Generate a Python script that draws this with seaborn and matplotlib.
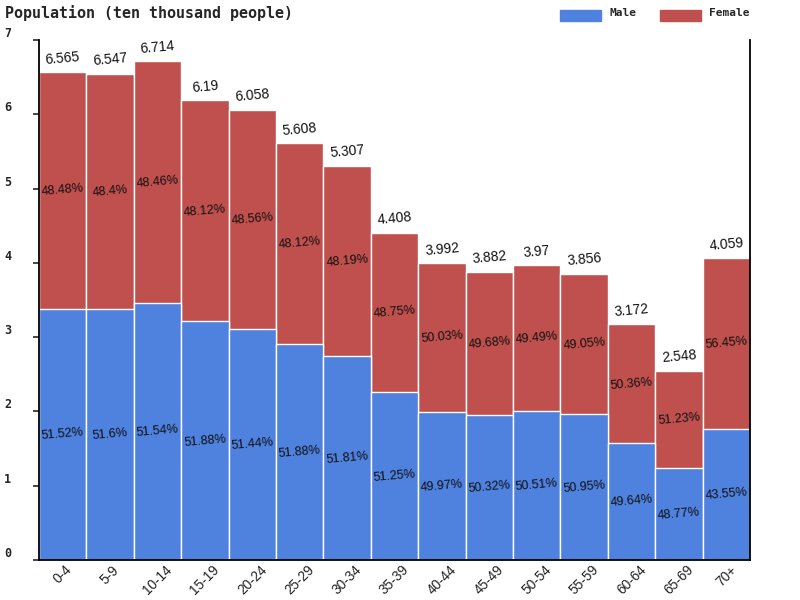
import matplotlib
matplotlib.use('Agg')
import matplotlib.pyplot as plt
import seaborn as sns
import pandas as pd
from matplotlib.patches import Rectangle
import matplotlib.transforms as mtransforms

age_groups = ['0-4', '5-9', '10-14', '15-19', '20-24', '25-29', '30-34', '35-39',
              '40-44', '45-49', '50-54', '55-59', '60-64', '65-69', '70+']
totals = [6.565, 6.547, 6.714, 6.19, 6.058, 5.608, 5.307, 4.408,
          3.992, 3.882, 3.97, 3.856, 3.172, 2.548, 4.059]
male_pct = [51.52, 51.6, 51.54, 51.88, 51.44, 51.88, 51.81, 51.25,
            49.97, 50.32, 50.51, 50.95, 49.64, 48.77, 43.55]
female_pct = [48.48, 48.4, 48.46, 48.12, 48.56, 48.12, 48.19, 48.75,
              50.03, 49.68, 49.49, 49.05, 50.36, 51.23, 56.45]

male_color = '#4f81df'
female_color = '#c0504d'

df = pd.DataFrame({'age': age_groups, 'total': totals,
                   'male_pct': male_pct, 'female_pct': female_pct})
df['male'] = df['total'] * df['male_pct'] / 100

sns.set_style('white')
fig = plt.figure(figsize=(8, 6), dpi=100)
ax = fig.add_axes([39 / 800, 40 / 600, 711 / 800, 520 / 600])

sns.barplot(data=df, x='age', y='total', color=female_color, width=1,
            saturation=1, edgecolor='white', linewidth=1, ax=ax)
sns.barplot(data=df, x='age', y='male', color=male_color, width=1,
            saturation=1, edgecolor='white', linewidth=1, ax=ax)

ax.set_xlim(-0.5, len(age_groups) - 0.5)
ax.set_ylim(0, 7)
ax.set_xlabel('')
ax.set_ylabel('')

ax.spines['top'].set_visible(False)
for sp in ['left', 'bottom', 'right']:
    ax.spines[sp].set_color('black')
    ax.spines[sp].set_linewidth(1.3)

# y ticks: small outward marks, labels at far left, shifted up
ax.set_yticks(range(0, 8))
ax.tick_params(axis='y', direction='out', length=4, width=1.2, left=True, pad=0)
offset = mtransforms.ScaledTranslation(0, 8 / 100, fig.dpi_scale_trans)
for lab in ax.get_yticklabels():
    lab.set_fontfamily('DejaVu Sans Mono')
    lab.set_fontweight('bold')
    lab.set_fontsize(8.5)
    lab.set_horizontalalignment('left')
    lab.set_transform(mtransforms.blended_transform_factory(fig.transFigure, ax.transData) + offset)
    lab.set_x(4 / 800)

ax.tick_params(axis='x', length=0, pad=2)
ax.set_xticks(range(len(age_groups)))
ax.set_xticklabels(age_groups, rotation=45, ha='center', va='top',
                   fontsize=9.8, color='#222222', fontfamily='Liberation Sans')

for i, row in df.iterrows():
    ax.annotate(f"{row['total']:g}", (i, row['total']), xytext=(0, 4),
                textcoords='offset points', ha='center', va='bottom',
                rotation=5, fontsize=10, fontfamily='Liberation Sans', color='#111111')
    ax.text(i, row['male'] / 2, f"{row['male_pct']:g}%", ha='center', va='center',
            rotation=5, fontsize=9, fontfamily='Liberation Sans', color='#111111')
    ax.text(i, (row['male'] + row['total']) / 2, f"{row['female_pct']:g}%",
            ha='center', va='center', rotation=5, fontsize=9,
            fontfamily='Liberation Sans', color='#111111')

fig.text(5 / 800, 1 - 13 / 600, 'Population (ten thousand people)', ha='left', va='center',
         fontfamily='DejaVu Sans Mono', fontsize=10.8, fontweight='bold')

# legend
fig.add_artist(Rectangle((560 / 800, 1 - 21 / 600), 41 / 800, 11 / 600,
                         transform=fig.transFigure, color=male_color))
fig.text(610 / 800, 1 - 13 / 600, 'Male', ha='left', va='center',
         fontfamily='DejaVu Sans Mono', fontsize=8, fontweight='bold')
fig.add_artist(Rectangle((660 / 800, 1 - 21 / 600), 41 / 800, 11 / 600,
                         transform=fig.transFigure, color=female_color))
fig.text(709 / 800, 1 - 13 / 600, 'Female', ha='left', va='center',
         fontfamily='DejaVu Sans Mono', fontsize=8, fontweight='bold')

fig.savefig('out.png', dpi=100)
